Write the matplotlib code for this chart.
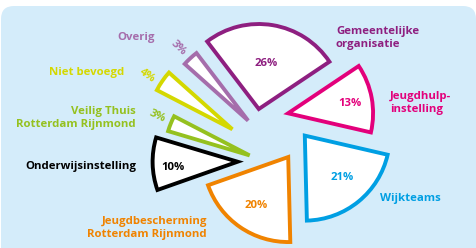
import matplotlib.pyplot as plt
import matplotlib.patches as patches
import numpy as np

plt.rcParams['font.family'] = ['Open Sans', 'DejaVu Sans']

# data
categories = ["Gemeentelijke\norganisatie", "Jeugdhulp-\ninstelling", "Wijkteams",
              "Jeugdbescherming\nRotterdam Rijnmond", "Onderwijsinstelling",
              "Veilig Thuis\nRotterdam Rijnmond", "Niet bevoegd", "Overig"]
shares = [26, 13, 21, 20, 10, 3, 4, 3]
pct_labels = ["26%", "13%", "21%", "20%", "10%", "3%", "4%", "3%"]

colors = ["#8e1f80", "#e3007b", "#009fe3", "#f08300", "#000000",
          "#95c11f", "#d4d800", "#a56dab"]
bg = "#d4ecfa"

# layout (pixel units, y up)
R = 85
C = (263, 114)
explode = [23.3, 31.6, 26.6, 4.9, 29.4, 12.3, 34.8, 27.8]
nudge = [(-8, 2), (-6, 15), (25, 19), (28, -19), (4, -27), (-2, -26), (-2, -15), (4, -7)]

fig = plt.figure(figsize=(4.77, 2.48), dpi=100)
ax = fig.add_axes([0, 0, 1, 1])

ax.add_patch(patches.FancyBboxPatch((1, -30), 475, 272,
                                    boxstyle="round,pad=0,rounding_size=13",
                                    facecolor=bg, edgecolor="none", zorder=0))

wedges, _ = ax.pie(shares, explode=explode, radius=R, center=C,
                   startangle=127.4, counterclock=False,
                   wedgeprops=dict(facecolor="white", linewidth=2.8, joinstyle="miter"))
for w, col, (dx, dy) in zip(wedges, colors, nudge):
    w.set_edgecolor(col)
    w.set_zorder(2)
    w.set_center((w.center[0] + dx, w.center[1] + dy))

fs = 8.2
# percentage labels
pct_pos = [(266, 185, 0), (350, 144, 0), (342, 70, 0), (256, 42, 0), (173, 81, 0),
           (157, 132, -25), (147, 172, -35), (178, 200, -44)]
for txt, col, (x, y, rot) in zip(pct_labels, colors, pct_pos):
    ax.text(x, y, txt, color=col, fontsize=fs, fontweight="bold", rotation=rot,
            ha="center", va="center", rotation_mode="anchor", zorder=3)

# category labels
cat_pos = [(336, 210, "left"), (390, 145, "left"), (380, 49, "left"), (207, 20, "right"),
           (136, 81, "right"), (136, 130, "right"), (124, 176, "right"), (155, 211, "right")]
for txt, col, (x, y, ha) in zip(categories, colors, cat_pos):
    ax.text(x, y, txt, color=col, fontsize=fs, fontweight="bold", ha=ha,
            va="center", linespacing=1.2, zorder=3)

ax.set_xlim(0, 477)
ax.set_ylim(0, 248)
ax.set_aspect("equal")
ax.axis("off")

fig.savefig("out.png", dpi=100)
